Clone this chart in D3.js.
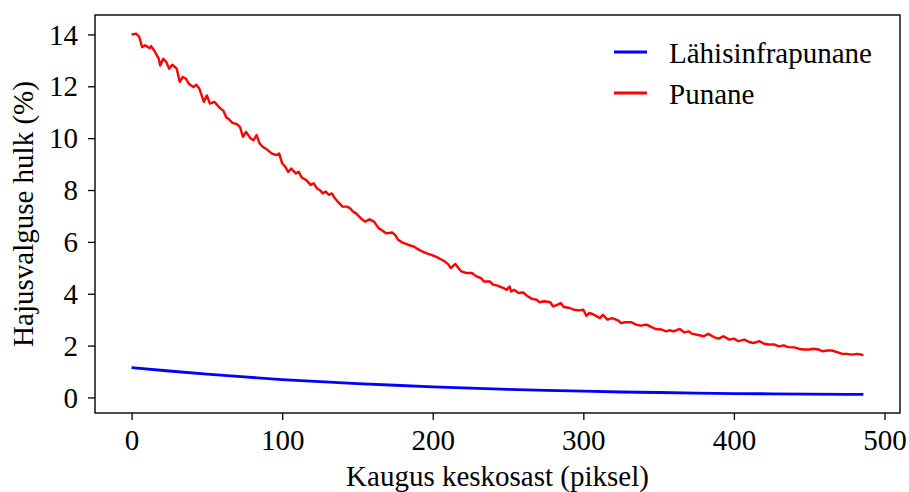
<!DOCTYPE html>
<html>
<head>
<meta charset="utf-8">
<script src="https://cdn.jsdelivr.net/npm/d3@7"></script>
<style>
body{margin:0;background:#fff;}
</style>
</head>
<body>
<svg id="chart" width="909" height="492"></svg>
<script>
const xTicks = [0,100,200,300,400,500];
const yTicks = [0,2,4,6,8,10,12,14];
const seriesNames = ["Lähisinfrapunane","Punane"];
const seriesColors = ["#0000ff","#ff0000"];
const xLabel = "Kaugus keskosast (piksel)";
const yLabel = "Hajusvalguse hulk (%)";

const redX = [0,3,5,7,9,12,13,15,18,19,21,23,25,27,30,32,34,36,38,41,43,45,48,50,52,55,58,61,63,
  64,67,70,72,74,76,79,81,83,85,87,90,93,96,98,100,102,104,106,109,111,113,116,119,121,123,125,
  127,129,131,133,135,137,140,143,145,147,149,153,155,158,161,164,166,169,173,175,177,180,184,
  187,189,193,196,199,202,206,208,210,212,215,217,219,222,226,229,232,234,238,240,243,247,249,251,
  252,254,257,260,263,266,269,271,274,278,280,283,285,287,291,294,297,300,302,304,307,311,313,
  316,319,323,325,328,332,335,338,342,345,348,352,355,357,360,364,367,370,372,
  377,380,383,387,390,393,397,400,403,407,410,413,417,420,423,427,430,433,436,
  440,443,446,450,453,456,459,462,465,468,472,475,478,482,486];
const redY = [14.0,14.03,13.92,13.51,13.58,13.47,13.55,13.38,13.07,12.8,13.06,12.94,12.68,12.83,12.68,12.17,12.36,12.3,12.1,11.97,12.06,11.91,11.4,11.65,11.33,11.4,11.2,11.05,10.8,
  10.76,10.59,10.54,10.43,10.05,10.24,9.99,9.92,10.12,9.8,9.67,9.56,9.41,9.35,9.41,9.03,8.9,8.7,8.83,8.64,8.7,8.48,8.38,8.19,8.26,8.06,8.0,
  7.87,7.94,7.81,7.87,7.68,7.55,7.36,7.36,7.3,7.17,7.1,6.87,6.78,6.87,6.78,6.53,6.46,6.33,6.36,6.27,6.08,5.97,5.88,
  5.83,5.76,5.63,5.56,5.5,5.43,5.31,5.24,5.15,4.99,5.15,4.99,4.86,4.8,4.8,4.67,4.6,4.47,4.47,4.35,4.31,4.22,4.15,4.28,
  4.09,4.15,4.03,4.05,3.9,3.8,3.77,3.67,3.71,3.67,3.51,3.58,3.64,3.49,3.45,3.38,3.36,3.38,3.15,3.26,3.19,3.06,3.19,
  3.0,3.06,2.97,2.87,2.9,2.9,2.81,2.77,2.81,2.72,2.64,2.62,2.55,2.59,2.55,2.64,2.51,2.55,2.46,
  2.4,2.36,2.45,2.32,2.27,2.36,2.23,2.27,2.17,2.23,2.14,2.1,2.17,2.07,2.04,2.04,1.97,2.01,1.94,
  1.93,1.88,1.85,1.85,1.88,1.85,1.78,1.81,1.81,1.76,1.68,1.68,1.65,1.68,1.63];
const blueX = [0,25,50,75,100,125,150,175,200,225,250,275,300,325,350,375,400,425,450,475,486];
const blueY = [1.15,1.02,0.90,0.79,0.69,0.61,0.53,0.47,0.41,0.36,0.31,0.27,0.24,0.21,0.19,0.17,0.15,0.14,0.13,0.12,0.115];

const FONT = "Liberation Serif, DejaVu Serif, serif";
const FS = 29;
const svg = d3.select("#chart");
const L = 95, R = 900, T = 15, B = 413;
const x = d3.scaleLinear().domain([-24.3, 510.3]).range([L, R]);
const y = d3.scaleLinear().domain([-0.6, 14.75]).range([B, T]);

const line = d3.line().x(d => x(d[0])).y(d => y(d[1]));
const blue = blueX.map((v,i) => [v, blueY[i]]);
const red = redX.map((v,i) => [v, redY[i]]);

svg.append("path").datum(blue).attr("d", line).attr("fill","none")
  .attr("stroke", seriesColors[0]).attr("stroke-width", 2.8).attr("stroke-linejoin","round");
svg.append("path").datum(red).attr("d", line).attr("fill","none")
  .attr("stroke", seriesColors[1]).attr("stroke-width", 2.4).attr("stroke-linejoin","round");

const xAxis = d3.axisBottom(x).tickValues(xTicks).tickSize(7).tickPadding(8).tickFormat(d3.format("d"));
const yAxis = d3.axisLeft(y).tickValues(yTicks).tickSize(7).tickPadding(10).tickFormat(d3.format("d"));
const gx = svg.append("g").attr("transform", `translate(0,${B})`).call(xAxis);
const gy = svg.append("g").attr("transform", `translate(${L},0)`).call(yAxis);
[gx, gy].forEach(g => {
  g.attr("font-family", FONT).attr("font-size", FS);
  g.select(".domain").remove();
  g.selectAll(".tick line").attr("stroke","#000").attr("stroke-width",1.3);
  g.selectAll(".tick text").attr("fill","#000");
});
gx.selectAll(".tick text").attr("y", 37).attr("dy", 0);
gy.selectAll(".tick text").attr("dy", "0.33em");

svg.append("rect").attr("x", L).attr("y", T).attr("width", R-L).attr("height", B-T)
  .attr("fill","none").attr("stroke","#000").attr("stroke-width",1.4);

svg.append("text").attr("x", (L+R)/2).attr("y", 486).attr("text-anchor","middle")
  .attr("font-family", FONT).attr("font-size", FS).text(xLabel);
svg.append("text").attr("transform", `translate(33,${(T+B)/2}) rotate(-90)`)
  .attr("text-anchor","middle").attr("font-family", FONT).attr("font-size", FS).text(yLabel);

const leg = svg.append("g").attr("font-family", FONT).attr("font-size", FS);
seriesNames.forEach((n,i) => {
  const yy = 52 + i*41;
  leg.append("line").attr("x1",614).attr("x2",647).attr("y1",yy).attr("y2",yy)
    .attr("stroke", seriesColors[i]).attr("stroke-width", 2.8);
  leg.append("text").attr("x",669).attr("y",yy+10.5).text(n);
});
</script>
</body>
</html>
